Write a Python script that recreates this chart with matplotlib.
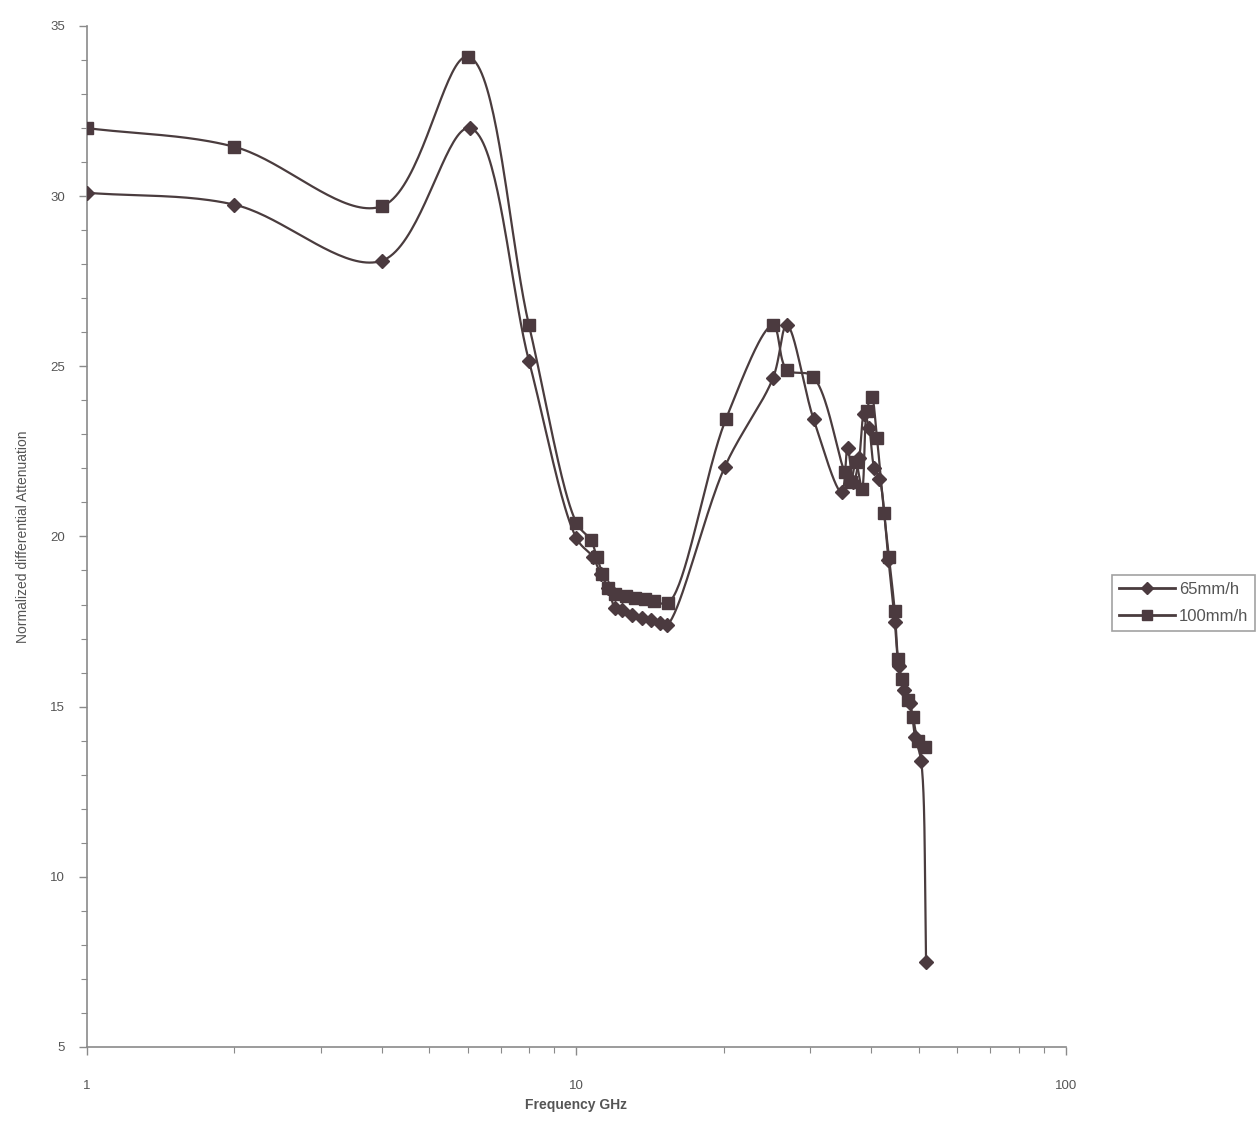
import numpy as np
import matplotlib
matplotlib.use("Agg")
import matplotlib.pyplot as plt
from matplotlib.ticker import FixedLocator, NullFormatter, MultipleLocator

# ---- data ----
freq_65 = [1.0, 2.0, 4.0, 6.05, 8.0, 10.0, 10.8, 11.2, 11.6, 12.0, 12.4, 13.0, 13.6, 14.2, 14.8, 15.3,
           20.1, 25.2, 26.9, 30.5, 34.8, 35.8, 36.8, 37.8, 38.7, 39.6, 40.6, 41.6, 43.4, 44.7,
           45.5, 46.6, 48.0, 49.2, 50.6, 51.8]
att_65 = [30.1, 29.75, 28.1, 32.0, 25.15, 19.95, 19.4, 18.9, 18.5, 17.9, 17.85, 17.7, 17.6, 17.55, 17.45, 17.4,
          22.05, 24.65, 26.2, 23.45, 21.3, 22.6, 21.6, 22.3, 23.6, 23.2, 22.0, 21.7, 19.3, 17.5,
          16.2, 15.5, 15.1, 14.1, 13.4, 7.5]

freq_100 = [1.0, 2.0, 4.0, 6.0, 8.0, 10.0, 10.7, 11.0, 11.3, 11.6, 12.0, 12.6, 13.2, 13.8, 14.4, 15.4,
            20.2, 25.2, 26.9, 30.4, 35.3, 36.3, 37.2, 38.3, 39.2, 40.1, 41.1, 42.5, 43.5, 44.7,
            45.4, 46.2, 47.6, 48.7, 49.9, 51.5]
att_100 = [32.0, 31.45, 29.7, 34.1, 26.2, 20.4, 19.9, 19.4, 18.9, 18.5, 18.3, 18.25, 18.2, 18.15, 18.1, 18.05,
           23.45, 26.2, 24.9, 24.7, 21.9, 21.6, 22.2, 21.4, 23.7, 24.1, 22.9, 20.7, 19.4, 17.8,
           16.4, 15.8, 15.2, 14.7, 14.0, 13.8]

series_labels = ["65mm/h", "100mm/h"]
x_ticklabels = ["1", "10", "100"]

LINE = "#4a3c3e"
MARK = "#4b3a3f"
AXC = "#8a8a8a"
TXT = "#555555"

# approximate screen scaling (px per decade, px per unit) for the smoothing only
SX, SY = 489.5, 34.0


def smooth(xs, ys, n=40, alpha=0.5):
    # centripetal Catmull-Rom smoothing in screen-like space (spreadsheet "smoothed line")
    P = np.column_stack([np.log10(np.asarray(xs, float)) * SX, np.asarray(ys, float) * SY])
    P = np.vstack([2 * P[0] - P[1], P, 2 * P[-1] - P[-2]])
    out = []
    for i in range(1, len(P) - 2):
        p0, p1, p2, p3 = P[i - 1], P[i], P[i + 1], P[i + 2]
        t0 = 0.0
        t1 = t0 + max(np.linalg.norm(p1 - p0), 1e-6) ** alpha
        t2 = t1 + max(np.linalg.norm(p2 - p1), 1e-6) ** alpha
        t3 = t2 + max(np.linalg.norm(p3 - p2), 1e-6) ** alpha
        t = np.linspace(t1, t2, n, endpoint=False)[:, None]
        A1 = (t1 - t) / (t1 - t0) * p0 + (t - t0) / (t1 - t0) * p1
        A2 = (t2 - t) / (t2 - t1) * p1 + (t - t1) / (t2 - t1) * p2
        A3 = (t3 - t) / (t3 - t2) * p2 + (t - t2) / (t3 - t2) * p3
        B1 = (t2 - t) / (t2 - t0) * A1 + (t - t0) / (t2 - t0) * A2
        B2 = (t3 - t) / (t3 - t1) * A2 + (t - t1) / (t3 - t1) * A3
        C = (t2 - t) / (t2 - t1) * B1 + (t - t1) / (t2 - t1) * B2
        out.append(C)
    out.append(P[-2][None, :])
    out = np.vstack(out)
    return 10 ** (out[:, 0] / SX), out[:, 1] / SY


plt.rcParams["font.family"] = ["Liberation Sans", "DejaVu Sans"]
fig = plt.figure(figsize=(12.57, 11.30), dpi=100)
fig.patch.set_facecolor("white")
ax = fig.add_axes([0.0692, 0.0735, 0.7788, 0.9035])
ax.set_facecolor("white")

for xs, ys, mk, ms, lab in [(freq_65, att_65, "D", 7.5, series_labels[0]),
                            (freq_100, att_100, "s", 9, series_labels[1])]:
    sx, sy = smooth(xs, ys)
    ax.plot(sx, sy, color=LINE, lw=1.6, zorder=2)
    ax.plot(xs, ys, linestyle="none", marker=mk, ms=ms, color=MARK, mec=MARK, zorder=3)
    ax.plot([], [], color=LINE, lw=2.0, marker=mk, ms=ms * 0.8, mfc=MARK, mec=MARK, label=lab)

ax.set_xscale("log")
ax.set_xlim(1, 100)
ax.set_ylim(5, 35)
ax.xaxis.set_major_locator(FixedLocator([1, 10, 100]))
ax.set_xticklabels(x_ticklabels)
ax.xaxis.set_minor_locator(FixedLocator([2, 3, 4, 5, 6, 7, 8, 9, 20, 30, 40, 50, 60, 70, 80, 90]))
ax.xaxis.set_minor_formatter(NullFormatter())
ax.yaxis.set_major_locator(MultipleLocator(5))
ax.yaxis.set_minor_locator(MultipleLocator(1))

for s in ["top", "right"]:
    ax.spines[s].set_visible(False)
for s in ["left", "bottom"]:
    ax.spines[s].set_color(AXC)
    ax.spines[s].set_linewidth(1.2)

ax.tick_params(which="both", direction="out", colors=AXC, labelcolor=TXT, labelsize=9.5)
ax.tick_params(which="major", length=6, width=1.0)
ax.tick_params(which="minor", length=4, width=0.8)
ax.tick_params(axis="x", which="major", pad=18)
ax.tick_params(axis="y", which="major", pad=10)

ax.set_xlabel("Frequency GHz", fontsize=10, fontweight="bold", color=TXT, labelpad=4)
ax.set_ylabel("Normalized differential Attenuation", fontsize=10, color=TXT, labelpad=14)

leg = ax.legend(loc="upper left", bbox_to_anchor=(1112 / 1257, 1 - 575 / 1130),
                bbox_transform=fig.transFigure, frameon=True, fancybox=False,
                fontsize=12, labelcolor=TXT, handlelength=3.4, borderpad=0.4,
                labelspacing=0.75, handletextpad=0.2, borderaxespad=0)
leg.get_frame().set_edgecolor(AXC)
leg.get_frame().set_linewidth(1.2)

fig.savefig("out.png", dpi=100, facecolor="white")
